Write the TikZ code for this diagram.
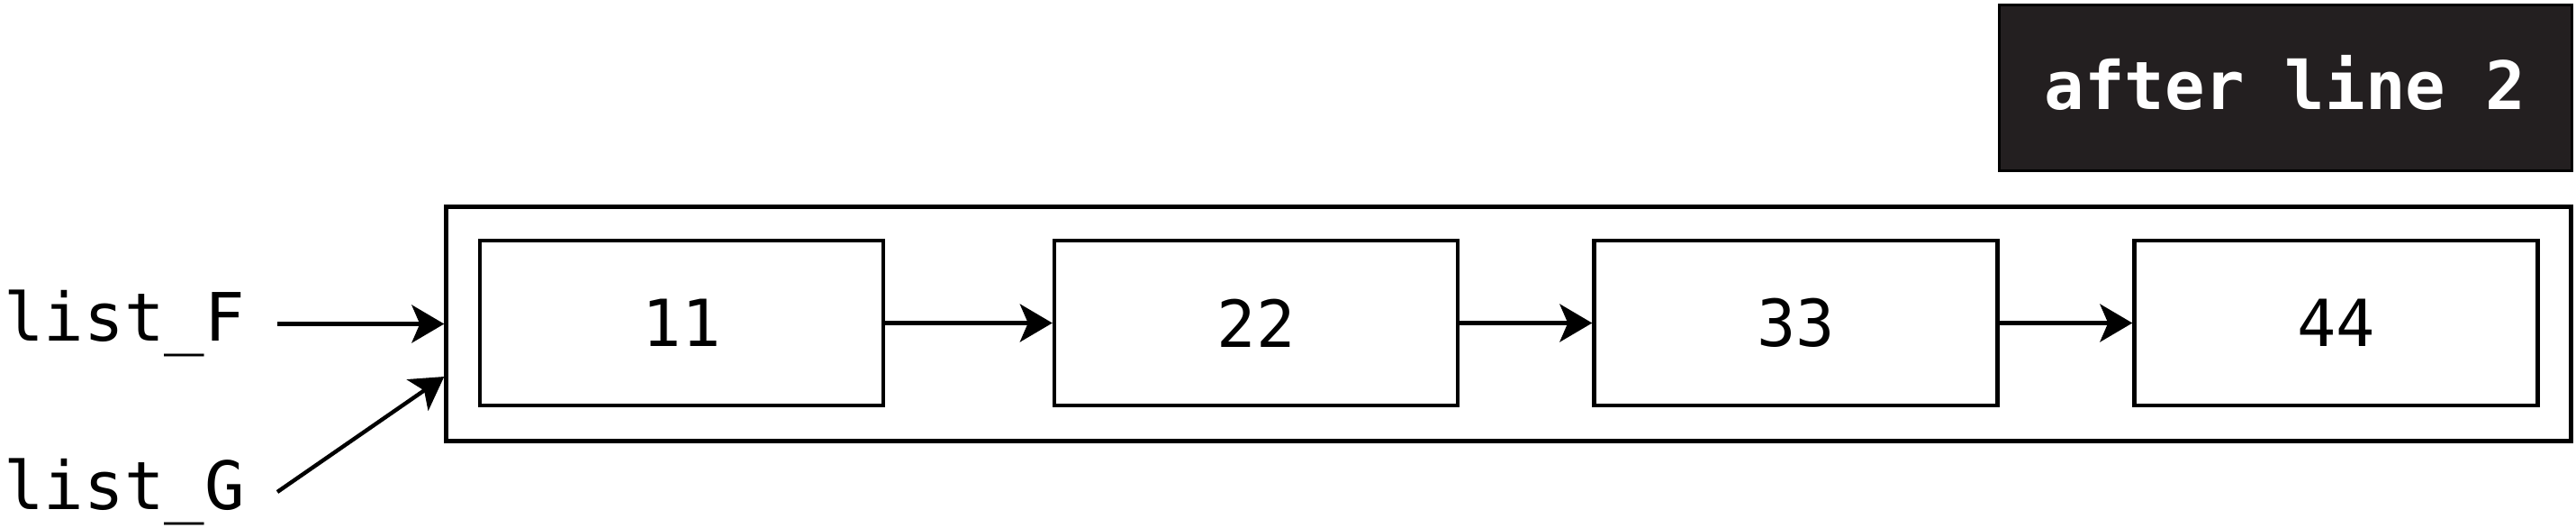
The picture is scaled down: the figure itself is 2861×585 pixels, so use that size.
\documentclass[tikz,border=0pt]{standalone}
\usepackage{fontspec}
\setmonofont{DejaVu Sans Mono}
\usetikzlibrary{arrows.meta}
\definecolor{labelbg}{HTML}{231F20}
\begin{document}
\begin{tikzpicture}[x=0.5pt,y=-0.5pt,
  cell/.style={draw, line width=2.2pt, minimum width=224pt, minimum height=91.5pt, inner sep=0pt,
    font=\ttfamily\fontsize{36}{36}\selectfont},
  frame/.style={draw, line width=2.2pt, inner sep=0pt},
  ptr/.style={line width=2.2pt, -{Stealth[length=18pt,width=21pt,inset=4.5pt]}},
  lbl/.style={font=\ttfamily\fontsize{37}{37}\selectfont, anchor=base west, inner sep=0pt},
  tag/.style={draw=black, line width=1.5pt, fill=labelbg, text=white, inner sep=0pt,
    text depth=6pt, minimum width=318pt, minimum height=92pt,
    font=\ttfamily\bfseries\fontsize{37}{37}\selectfont},
]
\useasboundingbox (0,0) rectangle (2861,585);

\node[tag] (title) at (2538,97) {after line 2};

\node[frame, minimum width=1180pt, minimum height=130pt] (outer) at (1675.5,359.5) {};

\node[cell] (c1) at (757,358.5) {11};
\node[cell] (c2) at (1395,358.5) {22};
\node[cell] (c3) at (1994.5,358.5) {33};
\node[cell] (c4) at (2594.5,358.5) {44};

\draw[ptr] (c1.east) -- (c2.west);
\draw[ptr] (c2.east) -- (c3.west);
\draw[ptr] (c3.east) -- (c4.west);

\node[lbl] (lF) at (4,378) {list\_F};
\node[lbl] (lG) at (4,565) {list\_G};

\coordinate (fs) at (308,359.5);
\coordinate (gs) at (308,546);
\coordinate (gt) at (0,418);

\draw[ptr] (fs) -- (outer.west);
\draw[ptr] (gs) -- (outer.west |- gt);
\end{tikzpicture}
\end{document}
